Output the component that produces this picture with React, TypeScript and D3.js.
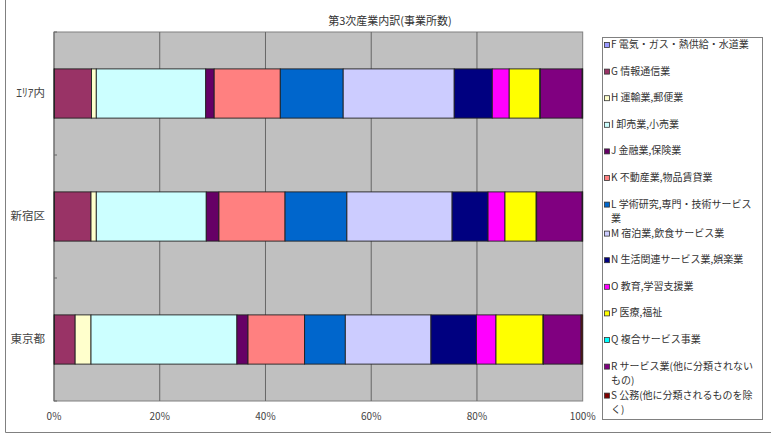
import * as d3 from 'd3';

const TITLE = '第3次産業内訳(事業所数)';
const categories = ['ｴﾘｱ内', '新宿区', '東京都'];
const industryKeys = ['F', 'G', 'H', 'I', 'J', 'K', 'L', 'M', 'N', 'O', 'P', 'Q', 'R', 'S'];
const legendLines: string[][] = [
  ['F 電気・ガス・熱供給・水道業'],
  ['G 情報通信業'],
  ['H 運輸業,郵便業'],
  ['I 卸売業,小売業'],
  ['J 金融業,保険業'],
  ['K 不動産業,物品賃貸業'],
  ['L 学術研究,専門・技術サービス', '業'],
  ['M 宿泊業,飲食サービス業'],
  ['N 生活関連サービス業,娯楽業'],
  ['O 教育,学習支援業'],
  ['P 医療,福祉'],
  ['Q 複合サービス事業'],
  ['R サービス業(他に分類されない', 'もの)'],
  ['S 公務(他に分類されるものを除', 'く)'],
];
const industryColors = [
  '#9999FF', '#993366', '#FFFFCC', '#CCFFFF', '#660066', '#FF8080', '#0066CC',
  '#CCCCFF', '#000080', '#FF00FF', '#FFFF00', '#00FFFF', '#800080', '#800000',
];

// share (%) F..S for each area
const areaValues = [0.1, 7.0, 0.9, 20.7, 1.6, 12.5, 11.9, 21.0, 7.2, 3.2, 5.8, 0.1, 7.9, 0.1];
const shinjukuValues = [0.1, 6.9, 1.0, 20.8, 2.4, 12.5, 11.7, 19.9, 6.8, 3.2, 5.9, 0.1, 8.6, 0.1];
const tokyoValues = [0.1, 3.9, 3.0, 27.6, 2.1, 10.7, 7.7, 16.2, 8.6, 3.7, 8.9, 0.1, 7.1, 0.3];
const xTicks = [0, 20, 40, 60, 80, 100];

const W = 771;
const H = 434;
const plot = { left: 54, right: 582.7, top: 32, bottom: 401 };
const FONT = '"Noto Sans CJK JP", "Noto Sans", sans-serif';

export default function App() {
  const seriesValues = [areaValues, shinjukuValues, tokyoValues];
  const rows = categories.map((c, i) => {
    const r: Record<string, number | string> = { cat: c };
    industryKeys.forEach((k, j) => { r[k] = seriesValues[i][j]; });
    return r;
  });
  const stacked = d3.stack<Record<string, number | string>>()
    .keys(industryKeys)
    .offset(d3.stackOffsetExpand)(rows as any);

  const x = d3.scaleLinear().domain([0, 1]).range([plot.left, plot.right]);
  const y = d3.scaleBand<string>().domain(categories).range([plot.top, plot.bottom])
    .paddingInner(0.6).paddingOuter(0.3);
  const step = y.step();
  const boundaries = d3.range(categories.length + 1).map(i => plot.top + i * step);

  // legend layout: wrapped entries take two lines
  const lx = 602, ly = 37, lw = 160, lh = 382;
  const lineH = 14.5;
  let cy = 45;
  const legendPos = legendLines.map(lines => {
    const pos = cy;
    cy += lines.length > 1 ? lineH * 2 : 26.6;
    return pos;
  });

  return (
    <div style={{ position: 'absolute', left: 0, top: 0 }}>
      <svg width={W} height={H} viewBox={`0 0 ${W} ${H}`} style={{ display: 'block', fontFamily: FONT }}>
        <rect width={W} height={H} fill="#fff" />
        {/* chart frame */}
        <line x1={5.5} x2={5.5} y1={0} y2={432.5} stroke="#808080" />
        <line x1={5.5} x2={W} y1={432.5} y2={432.5} stroke="#808080" />

        <text x={390} y={22} textAnchor="middle" dominantBaseline="middle" fontSize={11} fill="#333">{TITLE}</text>

        {/* plot area */}
        <rect x={plot.left} y={plot.top} width={plot.right - plot.left} height={plot.bottom - plot.top}
          fill="#C0C0C0" stroke="#808080" />
        {xTicks.slice(1, -1).map(t => (
          <line key={t} x1={x(t / 100)} x2={x(t / 100)} y1={plot.top} y2={plot.bottom} stroke="#666" />
        ))}
        <line x1={plot.left} x2={plot.left} y1={plot.top} y2={plot.bottom} stroke="#666" />
        {boundaries.map((b, i) => (
          <line key={i} x1={plot.left} x2={plot.left + 3} y1={b} y2={b} stroke="#666" />
        ))}

        {stacked.map((s, si) => (
          <g key={s.key} fill={industryColors[si]}>
            {s.map((d, i) => (
              <rect key={i} x={x(d[0])} y={y(categories[i])} width={Math.max(0, x(d[1]) - x(d[0]))}
                height={y.bandwidth()} stroke="#222" strokeWidth={0.9} />
            ))}
          </g>
        ))}

        {categories.map(c => (
          <text key={c} x={45} y={(y(c) ?? 0) + y.bandwidth() / 2} textAnchor="end" dominantBaseline="middle"
            fontSize={11.5} fill="#444">{c}</text>
        ))}
        {xTicks.map(t => (
          <text key={t} x={x(t / 100)} y={417} textAnchor="middle" dominantBaseline="middle" fontSize={10} fill="#444">{t}%</text>
        ))}

        {/* legend */}
        <rect x={lx + 0.5} y={ly + 0.5} width={lw} height={lh} fill="#fff" stroke="#808080" />
        {legendLines.map((lines, i) => (
          <g key={industryKeys[i]}>
            <rect x={604.5} y={legendPos[i] - 2.5} width={5} height={5} fill={industryColors[i]} stroke="#333" strokeWidth={0.8} />
            <text y={legendPos[i]} dominantBaseline="middle" fontSize={10} fill="#333">
              {lines.map((ln, k) => (
                <tspan key={k} x={611} dy={k === 0 ? 0 : lineH}>{ln}</tspan>
              ))}
            </text>
          </g>
        ))}
      </svg>
    </div>
  );
}
